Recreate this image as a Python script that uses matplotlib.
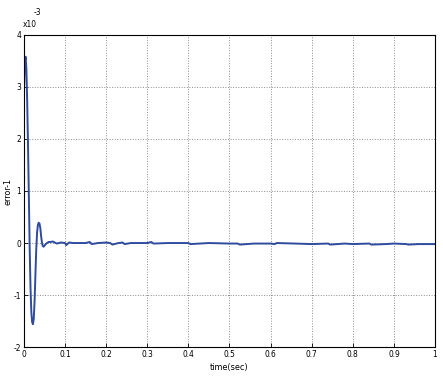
import matplotlib
matplotlib.use('Agg')
import matplotlib.pyplot as plt
import numpy as np

# error signal (units of 1e-3)
t_transient = [0.0, 0.002, 0.004, 0.006, 0.008, 0.010, 0.012, 0.014, 0.016, 0.018,
               0.020, 0.022, 0.024, 0.026, 0.028, 0.030, 0.032, 0.034, 0.036, 0.038,
               0.040, 0.042, 0.044, 0.046, 0.048, 0.050, 0.053, 0.056, 0.060]
e_transient = [2.9, 3.45, 3.58, 3.35, 2.7, 1.85, 0.9, -0.1, -0.85, -1.32,
               -1.52, -1.56, -1.45, -1.1, -0.6, -0.12, 0.2, 0.35, 0.39, 0.37,
               0.28, 0.12, 0.0, -0.06, -0.07, -0.05, -0.02, 0.0, 0.02]
t_steady = [0.065, 0.07, 0.075, 0.08, 0.09, 0.10, 0.103, 0.107, 0.11, 0.12, 0.15, 0.16,
            0.165, 0.18, 0.20, 0.21, 0.215, 0.23, 0.24, 0.245, 0.26, 0.30, 0.31,
            0.315, 0.35, 0.40, 0.405, 0.45, 0.50, 0.52, 0.525, 0.56, 0.60,
            0.61, 0.615, 0.66, 0.70, 0.74, 0.745, 0.78, 0.80, 0.84, 0.845,
            0.88, 0.90, 0.93, 0.935, 0.96, 0.98, 1.0]
e_steady = [0.02, 0.03, 0.01, -0.01, 0.01, 0.0, -0.04, -0.01, 0.01, 0.0, 0.0, 0.02,
            -0.02, 0.0, 0.01, 0.0, -0.03, 0.0, 0.01, -0.02, 0.0, 0.0, 0.02,
            -0.01, 0.0, 0.0, -0.02, 0.0, -0.01, -0.01, -0.03, -0.01, -0.01,
            -0.02, 0.0, -0.01, -0.02, -0.01, -0.03, -0.01, -0.02, -0.01, -0.03,
            -0.02, -0.01, -0.02, -0.03, -0.02, -0.02, -0.02]

x_ticks = [0, 0.1, 0.2, 0.3, 0.4, 0.5, 0.6, 0.7, 0.8, 0.9, 1]
x_tick_labels = ['0', '0.1', '0.2', '0.3', '0.4', '0.5', '0.6', '0.7', '0.8', '0.9', '1']
y_ticks = [-2, -1, 0, 1, 2, 3, 4]
y_tick_labels = ['-2', '-1', '0', '1', '2', '3', '4']

plt.rcParams['font.family'] = ['Liberation Sans Narrow', 'DejaVu Sans']
plt.rcParams['font.stretch'] = 'condensed'

fig = plt.figure(figsize=(4.43, 3.87), dpi=100)
ax = fig.add_axes([0.054, 0.103, 0.928, 0.807])

t = t_transient + t_steady
e = e_transient + e_steady
ax.plot(t, e, color='#2f4b9e', linewidth=1.4)

ax.set_xlim(0, 1)
ax.set_ylim(-2, 4)
ax.set_xticks(x_ticks)
ax.set_xticklabels(x_tick_labels)
ax.set_yticks(y_ticks)
ax.set_yticklabels(y_tick_labels)
ax.tick_params(direction='in', length=3, width=0.6, labelsize=6, pad=2,
               top=False, right=False)
ax.grid(True, linestyle=':', color='#8c8c8c', linewidth=0.7)
for s in ax.spines.values():
    s.set_linewidth(0.8)

ax.set_xlabel('time(sec)', fontsize=6.5, labelpad=3)
ax.set_ylabel('error-1', fontsize=6.5, labelpad=1)

# MATLAB style exponent label
fig.text(0.052, 0.925, r'x10', fontsize=6, ha='left', va='bottom')
fig.text(0.077, 0.955, r'-3', fontsize=6, ha='left', va='bottom')

fig.savefig('out.png', dpi=100)
